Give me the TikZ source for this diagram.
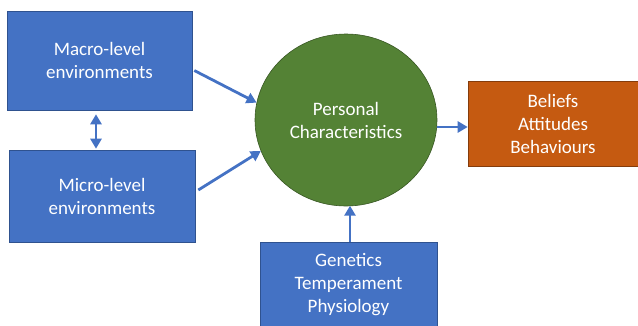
\documentclass[tikz,border=0pt]{standalone}
\usepackage{fontspec}
\setmainfont{Carlito}
\usepackage{tikz}
\usetikzlibrary{positioning,arrows.meta,shapes.geometric}
\usepackage{xcolor}
\definecolor{boxblue}{HTML}{4472C4}
\definecolor{boxedge}{HTML}{2F528F}
\definecolor{circgreen}{HTML}{548235}
\definecolor{circedge}{HTML}{385723}
\definecolor{outorange}{HTML}{C55A11}
\definecolor{outedge}{HTML}{843C0C}

\begin{document}
\begin{tikzpicture}[
  x=1pt, y=-1pt,
  every node/.style={font=\fontsize{19}{23}\selectfont, text=white, align=center},
  envbox/.style={draw=boxedge, fill=boxblue, line width=0.6pt, inner sep=0pt},
  outbox/.style={draw=outedge, fill=outorange, line width=0.6pt, inner sep=0pt},
  person/.style={ellipse, draw=circedge, fill=circgreen, line width=0.6pt, inner sep=0pt, minimum width=182pt, minimum height=172pt},
  flow/.style={-{Triangle[length=10pt,width=11pt]}, line width=2.8pt, draw=boxblue},
  bothflow/.style={{Triangle[length=10pt,width=11pt]}-{Triangle[length=10pt,width=11pt]}, line width=2.8pt, draw=boxblue},
]
  \useasboundingbox (0,0) rectangle (638,325);
  \node[envbox, minimum width=185pt, minimum height=99pt] (macro) at (99.5,60.5) {Macro-level\\environments};
  \node[envbox, minimum width=186pt, minimum height=92pt] (micro) at (102,196) {Micro-level\\environments};
  \node[person] (pers) at (346,120) {Personal\\Characteristics};
  \node[outbox, minimum width=170pt, minimum height=85pt] (beliefs) at (553,123.5) {Beliefs\\Attitudes\\Behaviours};
  \node[envbox, minimum width=177pt, minimum height=86pt] (genes) at (348.5,285) {Genetics\\Temperament\\Physiology};
  % connectors
  \draw[flow] ([xshift=2pt, yshift=-10pt]macro.east) -- (pers.169);
  \draw[flow] ([xshift=3pt, yshift=6pt]micro.east) -- (pers.200);
  \draw[bothflow] ([xshift=-3.5pt, yshift=-4pt]macro.south) -- ([xshift=-6pt, yshift=1pt]micro.north);
  \draw[flow] ([yshift=-7pt]pers.east) -- ([yshift=-3.5pt]beliefs.west);
  \draw[flow] ([xshift=1.5pt]genes.north) -- ++(0,-36);
\end{tikzpicture}
\end{document}
